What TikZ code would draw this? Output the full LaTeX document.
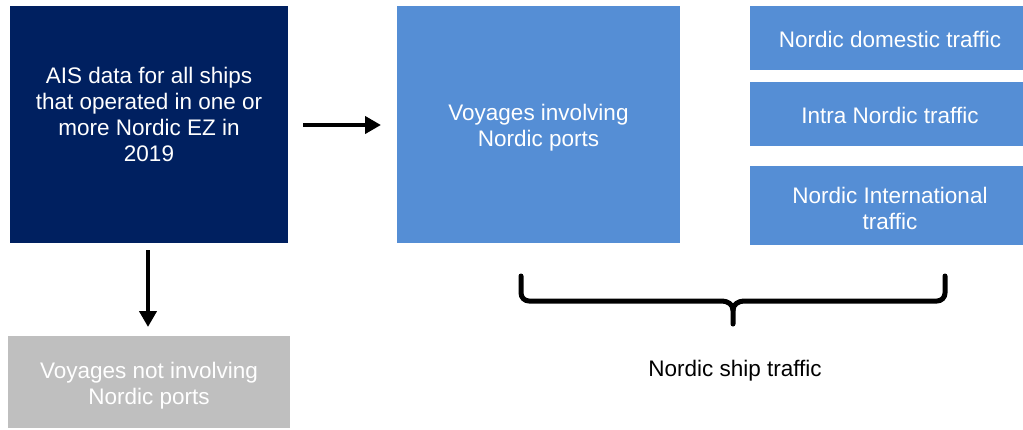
\documentclass[tikz,border=0pt]{standalone}
\usepackage{fontspec}
\setmainfont{Liberation Sans}
\usetikzlibrary{arrows.meta}
\definecolor{navy}{HTML}{002060}
\definecolor{lblue}{HTML}{558ED5}
\definecolor{lgrey}{HTML}{BFBFBF}
\begin{document}
\begin{tikzpicture}[x=1pt,y=-1pt,
  box/.style={draw=none,inner sep=0pt,outer sep=0pt,text=white,align=center,
    font=\fontsize{22.5}{26}\selectfont},
  arr/.style={line width=4pt,-{Triangle[length=16pt,width=17pt]}},
  lbl/.style={font=\fontsize{22.5}{26}\selectfont,text=black}]
\useasboundingbox (0,0) rectangle (1023,429);
\fill[navy] (10,6) rectangle (288,243);
\node[box] (ais) at (149,114) {AIS data for all ships\\that operated in one or\\more Nordic EZ in\\2019};
\coordinate (aisR) at (303,125);
\coordinate (aisB) at (148,250);
\fill[lblue] (397,6) rectangle (680,243);
\node[box] (voy) at (538.5,128) {Voyages involving\\Nordic ports};
\coordinate (voyL) at (381,125);
\fill[lblue] (750,6) rectangle (1023,70);
\node[box] (dom) at (890,39) {Nordic domestic traffic};
\fill[lblue] (750,82) rectangle (1023,146);
\node[box] (intra) at (890,115) {Intra Nordic traffic};
\fill[lblue] (750,166) rectangle (1023,245);
\node[box] (intl) at (890,208) {Nordic International\\traffic};
\fill[lgrey] (8,336) rectangle (290,428);
\node[box] (not) at (149,386) {Voyages not involving\\Nordic ports};
\coordinate (notT) at (148,327);
\draw[arr] (aisR) -- (voyL);
\draw[arr] (aisB) -- (notT);
\draw[line width=5pt,line cap=round,line join=round]
  (521,276) -- (521,293) to[out=-90,in=180] (529,301) -- (722,301)
  to[out=0,in=90] (733,310) -- (733,324);
\draw[line width=5pt,line cap=round,line join=round]
  (945,276) -- (945,293) to[out=-90,in=0] (937,301) -- (744,301)
  to[out=180,in=90] (733,310);
\node[lbl] (nst) at (735,371) {Nordic ship traffic};
\end{tikzpicture}
\end{document}
